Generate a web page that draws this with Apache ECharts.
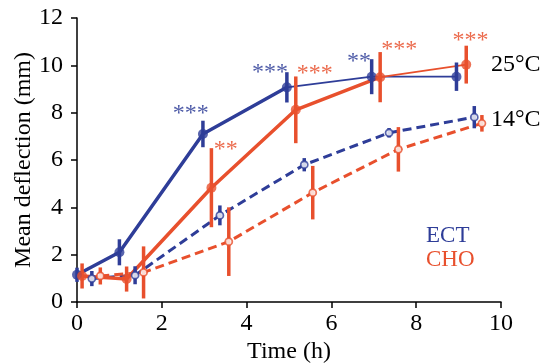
<!DOCTYPE html>
<html>
<head>
<meta charset="utf-8">
<script src="https://cdn.jsdelivr.net/npm/echarts@6/dist/echarts.min.js"></script>
<style>
  html, body { margin: 0; padding: 0; background: #fff; }
  #chart { width: 542px; height: 364px; }
</style>
</head>
<body>
<div id="chart"></div>
<script>
const BLUE = "#2e3d98";
const RED = "#e8502d";
const FONT = "'Liberation Serif', 'Times New Roman', Times, serif";

// 25°C, ECT (filled, solid)
const ectWarmX = [0, 1, 2.97, 4.95, 6.95, 8.95];
const ectWarmY = [1.15, 2.1, 7.1, 9.07, 9.52, 9.52];
const ectWarmErr = [0.3, 0.55, 0.56, 0.64, 0.74, 0.6];
// 25°C, CHO (filled, solid)
const choWarmX = [0.12, 1.17, 3.17, 5.16, 7.15, 9.18];
const choWarmY = [1.1, 0.97, 4.83, 8.12, 9.5, 10.03];
const choWarmErr = [0.53, 0.53, 1.67, 1.41, 1.06, 0.8];
// 14°C, ECT (open, dashed)
const ectCoolX = [0.35, 1.37, 3.37, 5.36, 7.36, 9.37];
const ectCoolY = [0.99, 1.13, 3.66, 5.8, 7.15, 7.81];
const ectCoolErr = [0.32, 0.38, 0.42, 0.28, 0.2, 0.47];
// 14°C, CHO (open, dashed)
const choCoolX = [0.55, 1.57, 3.58, 5.56, 7.58, 9.55];
const choCoolY = [1.1, 1.25, 2.55, 4.62, 6.45, 7.55];
const choCoolErr = [0.36, 1.1, 1.45, 1.13, 0.94, 0.35];

// significance marks
const starEctX = [2.68, 4.55, 6.65];
const starEctY = [8.2, 9.95, 10.41];
const starEctText = ["***", "***", "**"];
const starChoX = [3.51, 5.61, 7.6, 9.28];
const starChoY = [6.68, 9.89, 10.92, 11.3];
const starChoText = ["**", "***", "***", "***"];

const pts = (xs, ys) => xs.map((x, i) => [x, ys[i]]);

function lineSeries(data, color, width, dashed) {
  return {
    type: "line",
    data,
    symbol: "none",
    silent: true,
    z: 2,
    lineStyle: { color, width, type: dashed ? [9, 5] : "solid" },
  };
}

function errorBars(xs, ys, errs, color) {
  return {
    type: "custom",
    silent: true,
    z: 3,
    encode: { x: 0, y: 1 },
    data: xs.map((x, i) => [x, ys[i], errs[i]]),
    renderItem: (params, api) => {
      const top = api.coord([api.value(0), api.value(1) + api.value(2)]);
      const bot = api.coord([api.value(0), api.value(1) - api.value(2)]);
      return {
        type: "line",
        shape: { x1: top[0], y1: top[1], x2: bot[0], y2: bot[1] },
        style: { stroke: color, lineWidth: 3.5 },
      };
    },
  };
}

function markers(data, color, open) {
  return {
    type: "scatter",
    data,
    silent: true,
    z: 4,
    symbol: "circle",
    symbolSize: open ? 7 : 10,
    itemStyle: open
      ? { color: "#fff", borderColor: color, borderWidth: 1.8 }
      : { color },
  };
}

function stars(xs, ys, texts, color) {
  return {
    type: "custom",
    silent: true,
    z: 5,
    encode: { x: 0, y: 1 },
    data: xs.map((x, i) => [x, ys[i]]),
    renderItem: (params, api) => {
      const p = api.coord([api.value(0), api.value(1)]);
      return {
        type: "text",
        x: p[0],
        y: p[1] + 6,
        style: {
          text: texts[params.dataIndex],
          fill: color,
          opacity: 0.85,
          fontFamily: FONT,
          fontSize: 24,
          align: "center",
          verticalAlign: "middle",
        },
      };
    },
  };
}

const chart = echarts.init(document.getElementById("chart"));

// thick segments up to the split index, thin afterwards
const ectWarm = pts(ectWarmX, ectWarmY);
const choWarm = pts(choWarmX, choWarmY);

const axisText = { color: "#000", fontFamily: FONT, fontSize: 24 };

chart.setOption({
  animation: false,
  backgroundColor: "#fff",
  grid: { left: 77, right: 41, top: 18, bottom: 62, outerBoundsMode: "none" },
  xAxis: {
    type: "value",
    min: 0,
    max: 10,
    interval: 2,
    name: "Time (h)",
    nameLocation: "middle",
    nameGap: 38,
    nameMoveOverlap: false,
    nameTextStyle: axisText,
    axisLine: { lineStyle: { color: "#000", width: 1.5 } },
    axisTick: { length: 6, lineStyle: { color: "#000", width: 1.5 } },
    axisLabel: { ...axisText, margin: 10 },
    splitLine: { show: false },
  },
  yAxis: {
    type: "value",
    min: 0,
    max: 12,
    interval: 2,
    name: "Mean deflection (mm)",
    nameLocation: "middle",
    nameGap: 41,
    nameMoveOverlap: false,
    nameTextStyle: axisText,
    axisLine: { show: true, lineStyle: { color: "#000", width: 1.5 } },
    axisTick: { show: true, length: 6, lineStyle: { color: "#000", width: 1.5 } },
    axisLabel: { ...axisText, margin: 14 },
    splitLine: { show: false },
  },
  graphic: [
    { type: "text", left: 491, top: 53, style: { text: "25°C", fill: "#000", fontFamily: FONT, fontSize: 24 } },
    { type: "text", left: 491, top: 108, style: { text: "14°C", fill: "#000", fontFamily: FONT, fontSize: 24 } },
    { type: "text", left: 426, top: 224, style: { text: "ECT", fill: BLUE, fontFamily: FONT, fontSize: 23 } },
    { type: "text", left: 426, top: 248, style: { text: "CHO", fill: RED, fontFamily: FONT, fontSize: 23 } },
  ],
  series: [
    lineSeries(pts(ectCoolX, ectCoolY), BLUE, 3, true),
    lineSeries(pts(choCoolX, choCoolY), RED, 3, true),
    lineSeries(ectWarm.slice(0, 4), BLUE, 3.5, false),
    lineSeries(ectWarm.slice(3), BLUE, 1.8, false),
    lineSeries(choWarm.slice(0, 5), RED, 3.5, false),
    lineSeries(choWarm.slice(4), RED, 1.8, false),
    errorBars(ectCoolX, ectCoolY, ectCoolErr, BLUE),
    errorBars(choCoolX, choCoolY, choCoolErr, RED),
    errorBars(ectWarmX, ectWarmY, ectWarmErr, BLUE),
    errorBars(choWarmX, choWarmY, choWarmErr, RED),
    markers(pts(ectCoolX, ectCoolY), BLUE, true),
    markers(pts(choCoolX, choCoolY), RED, true),
    markers(ectWarm, BLUE, false),
    markers(choWarm, RED, false),
    stars(starEctX, starEctY, starEctText, BLUE),
    stars(starChoX, starChoY, starChoText, RED),
  ],
});
</script>
</body>
</html>
